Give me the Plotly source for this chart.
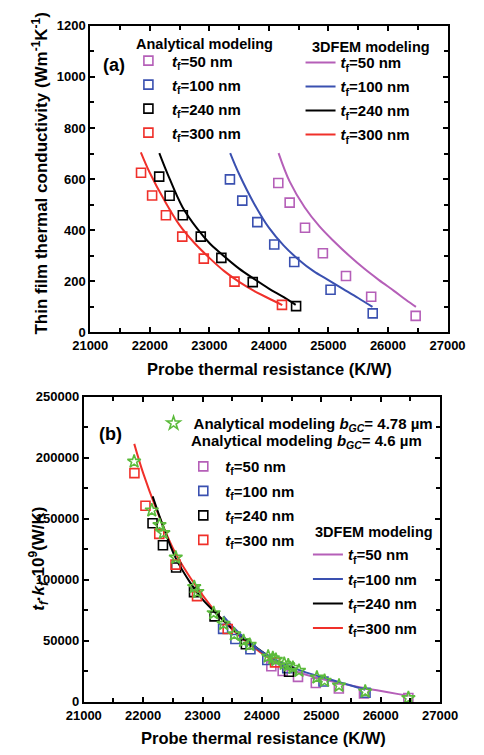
import plotly.graph_objects as go

# ---------------- data ----------------
thickness = [50, 100, 240, 300]
labels = ["50", "100", "240", "300"]
colors = ["#B55FB8", "#3A50B0", "#000000", "#F0302A"]

# analytical modeling squares: probe thermal resistance (K/W) and k (W/m/K)
R_an = {
    50:  [24158, 24349, 24607, 24907, 25295, 25718, 26465],
    100: [23346, 23553, 23806, 24090, 24426, 25036, 25744],
    240: [22158, 22333, 22555, 22856, 23202, 23729, 24457],
    300: [21853, 22039, 22271, 22545, 22907, 23423, 24220],
}
K_an = {
    50:  [585, 508, 410, 310, 221, 140, 65],
    100: [599, 516, 432, 344, 276, 167, 75],
    240: [610, 535, 459, 375, 292, 197, 103],
    300: [625, 536, 459, 375, 289, 199, 108],
}

# 3DFEM modeling curves
R_fem = {
    50:  [24163, 24350, 24600, 24850, 25100, 25350, 25600, 25850, 26100, 26300, 26470],
    100: [23350, 23500, 23750, 24000, 24250, 24500, 24750, 25000, 25250, 25500, 25740],
    240: [22160, 22300, 22550, 22800, 23000, 23200, 23500, 23750, 24000, 24250, 24450],
    300: [21850, 22000, 22250, 22500, 22750, 23000, 23250, 23500, 23750, 24000, 24225],
}
K_fem = {
    50:  [702, 590, 490, 415, 355, 300, 250, 205, 163, 128, 100],
    100: [702, 620, 505, 410, 340, 285, 240, 205, 170, 135, 100],
    240: [702, 620, 490, 405, 350, 308, 250, 210, 172, 138, 108],
    300: [705, 625, 515, 420, 350, 292, 240, 198, 163, 133, 107],
}

# analytical modeling with b_GC = 4.78 um (stars in panel b): R and t*k
R_star = [21848, 22145, 22275, 22340, 22549, 22860, 22912, 23187, 23353, 23534,
          23690, 23794, 24105, 24183, 24235, 24375, 24443, 24520, 24624, 24925,
          25054, 25298, 25739, 26466]
TK_star = [197000, 157000, 145000, 138400, 118300, 94200, 90200, 72800, 64000, 55400,
           50000, 46800, 37200, 35900, 34500, 31300, 30000, 28100, 25500, 20100,
           17400, 13400, 8600, 3200]

# ---------------- layout helpers ----------------
OFF = 8                      # default page margin around the plot div
W, H = 484 - OFF, 755 - OFF
FONT = "Liberation Sans, Arial, sans-serif"


def px(x):
    """page pixel x -> paper fraction"""
    return (x - OFF) / W


def py(y):
    """page pixel y -> paper fraction"""
    return 1 - (y - OFF) / H


fig = go.Figure()

# ---------- panel (a) ----------
for t, lab, c in zip(thickness, labels, colors):
    fig.add_trace(go.Scatter(
        x=R_fem[t], y=K_fem[t], mode="lines", line=dict(color=c, width=2, shape="spline"),
        name="<i>t</i><sub>f</sub>=%s nm" % lab, legend="legend2", legendgroup="fa" + lab,
        xaxis="x", yaxis="y"))
for t, lab, c in zip(thickness, labels, colors):
    fig.add_trace(go.Scatter(
        x=R_an[t], y=K_an[t], mode="markers",
        marker=dict(symbol="square-open", size=9, color=c, line=dict(width=1.6, color=c)),
        name="<i>t</i><sub>f</sub>=%s nm" % lab, legend="legend", legendgroup="sa" + lab,
        xaxis="x", yaxis="y"))

# ---------- panel (b) ----------
order_b = [300, 240, 50, 100]
for t in order_b:
    i = thickness.index(t)
    fig.add_trace(go.Scatter(
        x=R_fem[t], y=[t * k for k in K_fem[t]], mode="lines",
        line=dict(color=colors[i], width=2, shape="spline"),
        name="<i>t</i><sub>f</sub>=%s nm" % labels[i], legend="legend5",
        legendgroup="fb" + labels[i], legendrank=i + 1, xaxis="x2", yaxis="y2"))
for t, lab, c in zip(thickness, labels, colors):
    fig.add_trace(go.Scatter(
        x=R_an[t], y=[t * k for k in K_an[t]], mode="markers",
        marker=dict(symbol="square-open", size=9, color=c, line=dict(width=1.6, color=c)),
        name="<i>t</i><sub>f</sub>=%s nm" % lab, legend="legend4", legendgroup="sb" + lab,
        xaxis="x2", yaxis="y2"))
fig.add_trace(go.Scatter(
    x=R_star, y=TK_star, mode="markers",
    marker=dict(symbol="star-open", size=10, color="#5CBB3C", line=dict(width=1.6, color="#5CBB3C")),
    name="Analytical modeling <i>b</i><sub><i>GC</i></sub>= 4.78 \u00b5m", legend="legend3",
    xaxis="x2", yaxis="y2"))

axis_common = dict(
    showline=True, linecolor="black", linewidth=2, mirror="allticks",
    ticks="inside", ticklen=5, tickwidth=1.5, tickcolor="black",
    showgrid=False, zeroline=False, tickformat="d",
    tickfont=dict(family=FONT, size=13, color="black", weight="bold"),
)

fig.update_layout(
    width=W, height=H, margin=dict(l=0, r=0, t=0, b=0),
    paper_bgcolor="white", plot_bgcolor="white",
    font=dict(family=FONT, color="black"),
    xaxis=dict(domain=[px(77.5), px(464)], range=[21000, 27000], dtick=1000, anchor="y",
               minor=dict(ticks="inside", dtick=500, ticklen=4, tickwidth=1.5, tickcolor="black"),
               **axis_common),
    yaxis=dict(domain=[py(332), py(19)], range=[0, 1200], dtick=200, anchor="x",
               minor=dict(ticks="inside", dtick=100, ticklen=4, tickwidth=1.5, tickcolor="black"),
               **axis_common),
    xaxis2=dict(domain=[px(70.5), px(456)], range=[21000, 27000], dtick=1000, anchor="y2",
                minor=dict(ticks="inside", dtick=500, ticklen=4, tickwidth=1.5, tickcolor="black"),
                **axis_common),
    yaxis2=dict(domain=[py(709), py(397.7)], range=[0, 250000], dtick=50000, anchor="x2",
                minor=dict(ticks="inside", dtick=25000, ticklen=4, tickwidth=1.5, tickcolor="black"),
                **axis_common),
    showlegend=True,
)

leg_common = dict(xanchor="left", yanchor="top", bgcolor="rgba(0,0,0,0)", borderwidth=0,
                  font=dict(family=FONT, size=15, color="black", weight="bold"),
                  traceorder="grouped")
fig.update_layout(
    legend=dict(x=px(115), y=py(38), tracegroupgap=1.5, itemwidth=37, **leg_common),
    legend2=dict(x=px(305), y=py(40), tracegroupgap=1.5, itemwidth=30, **leg_common),
    legend3=dict(x=px(146), y=py(408), tracegroupgap=2, itemwidth=30, **leg_common),
    legend4=dict(x=px(176), y=py(452), tracegroupgap=2, itemwidth=34, **leg_common),
    legend5=dict(x=px(313), y=py(542), tracegroupgap=2, itemwidth=30, **leg_common),
)


def ann(text, x, y, size, xanchor="center", angle=0):
    return dict(text=text, x=px(x), y=py(y), xref="paper", yref="paper",
                xanchor=xanchor, yanchor="middle", showarrow=False, textangle=angle,
                font=dict(family=FONT, size=size, color="black", weight="bold"))


fig.update_layout(annotations=[
    ann("Analytical modeling", 125, 38, 14.5, "left"),
    ann("3DFEM modeling", 315, 41, 14.5, "left"),
    ann("Analytical modeling <i>b</i><sub><i>GC</i></sub>= 4.6 \u00b5m", 184, 443, 15, "left"),
    ann("3DFEM modeling", 318, 536, 14.5, "left"),
    ann("(a)", 103, 59, 18),
    ann("(b)", 99, 436, 18),
    ann("Probe thermal resistance (K/W)", 271, 369, 16.5),
    ann("Probe thermal resistance (K/W)", 265, 746, 16.5),
    ann("Thin film thermal conductivity (Wm<sup>-1</sup>K<sup>-1</sup>)", 23, 170, 17, angle=-90),
    ann("<i>t</i><sub><i>f</i></sub>\u00b7<i>k</i><sub><i>f</i></sub>\u00b710<sup>9</sup>(W/K)",
        22, 563, 17, angle=-90),
])

fig.write_html("out.html")
